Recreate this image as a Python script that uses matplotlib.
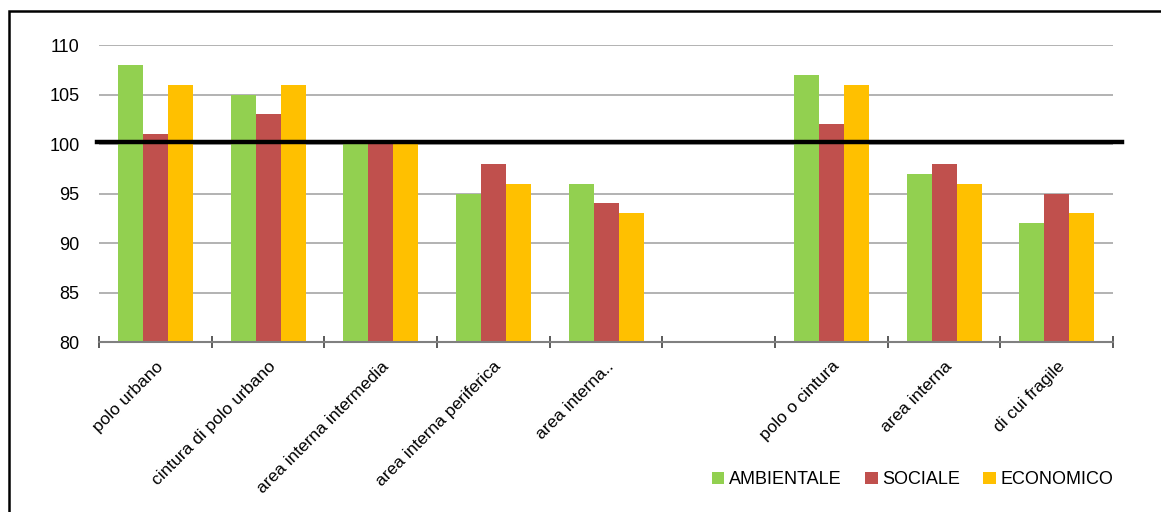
import numpy as np
import matplotlib
matplotlib.use("Agg")
import matplotlib.pyplot as plt
from matplotlib.patches import Rectangle

# categorie (la sesta è una colonna vuota di separazione)
categorie = ["polo urbano", "cintura di polo urbano", "area interna intermedia",
             "area interna periferica", "area interna..", "",
             "polo o cintura", "area interna", "di cui fragile"]

ambientale = [108, 105, 100, 95, 96, np.nan, 107, 97, 92]
sociale = [101, 103, 100, 98, 94, np.nan, 102, 98, 95]
economico = [106, 106, 100, 96, 93, np.nan, 106, 96, 93]

serie = ["AMBIENTALE", "SOCIALE", "ECONOMICO"]
colori = ["#92D050", "#C0504D", "#FFC000"]

riferimento = 100.2

plt.rcParams["font.family"] = ["Liberation Sans Narrow", "Liberation Sans", "DejaVu Sans"]

fig = plt.figure(figsize=(11.61, 5.12), dpi=100)
ax = fig.add_axes([0.0853, 0.332, 0.8734, 0.580])

x = np.arange(len(categorie))
w = 0.222
for i, (vals, nome, col) in enumerate(zip([ambientale, sociale, economico], serie, colori)):
    ax.bar(x + (i - 1) * w, np.array(vals) - 80, width=w, bottom=80,
           color=col, label=nome, zorder=2)

ax.set_xlim(-0.5, len(categorie) - 0.5)
ax.set_ylim(80, 110)
ax.set_yticks(range(80, 111, 5))
ax.yaxis.grid(True, color="#a6a6a6", linewidth=1.2, zorder=0)
ax.set_axisbelow(True)

# linea di riferimento (media = 100), sporge oltre l'area del grafico
ax.axhline(riferimento, xmin=-0.002, xmax=1.009, color="black", linewidth=3.2,
           clip_on=False, zorder=4)

for s in ["top", "right", "left"]:
    ax.spines[s].set_visible(False)
ax.spines["bottom"].set_color("#808080")
ax.spines["bottom"].set_linewidth(1.5)

ax.set_xticks(x)
ax.set_xticklabels(categorie, rotation=45, ha="right", rotation_mode="anchor",
                   fontsize=12.5)
ax.tick_params(axis="x", which="major", length=0, pad=12)
ax.set_xticks(np.arange(-0.5, len(categorie), 1), minor=True)
ax.tick_params(axis="x", which="minor", direction="inout", length=9,
               width=1.2, color="#404040")
ax.tick_params(axis="y", length=0, labelsize=13, pad=14)

ax.legend(loc="center", bbox_to_anchor=(0.786, 0.063), bbox_transform=fig.transFigure,
          ncol=3, frameon=False, fontsize=13, handlelength=0.7, handleheight=0.7,
          handletextpad=0.25, columnspacing=1.3)

# cornice esterna (solo lati superiore e sinistro visibili)
fig.patches.append(Rectangle((8.5 / 1161, -0.1), 1.2, 1.1 - 10.5 / 512,
                             transform=fig.transFigure, fill=False,
                             edgecolor="black", linewidth=1.8))

fig.savefig("out.png", dpi=100)
